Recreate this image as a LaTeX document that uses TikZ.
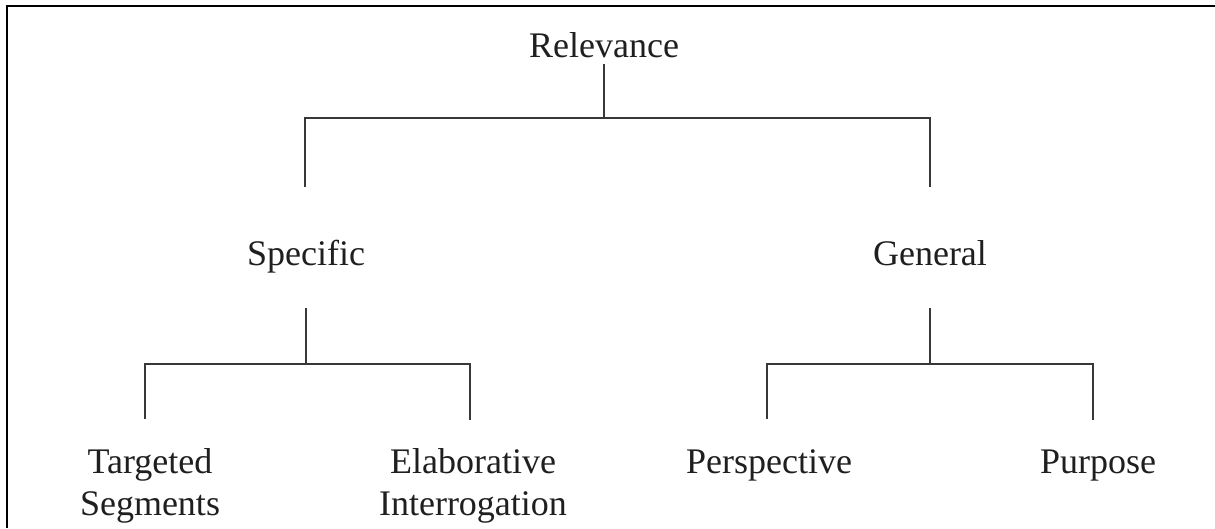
\documentclass[tikz,border=0pt]{standalone}
\usepackage{fontspec}
\setmainfont{Liberation Serif}
\begin{document}
\begin{tikzpicture}[x=1pt,y=-1pt,
  lbl/.style={anchor=base,inner sep=0pt,font=\fontsize{36}{42}\selectfont,text=black!88,align=center},
  conn/.style={draw=black!78,line width=2.2pt,line cap=butt,line join=miter}]
\useasboundingbox (0,0) rectangle (1215,528);
% cropped frame
\draw[line width=2.2pt,black] (7,528) -- (7,6) -- (1215,6);
% labels
\node[lbl] (rel) at (604,57) {Relevance};
\node[lbl] (spec) at (306,265) {Specific};
\node[lbl] (gen) at (930,265) {General};
\node[lbl] (ts) at (150,515) {Targeted\\Segments};
\node[lbl] (ei) at (473,515) {Elaborative\\Interrogation};
\node[lbl] (per) at (769,473) {Perspective};
\node[lbl] (pur) at (1098,473) {Purpose};
% junction coordinates
\coordinate (relB) at (604,64);
\coordinate (relJ) at (604,118);
\coordinate (specT) at (305,187);
\coordinate (genT) at (930,187);
\coordinate (specB) at (306,308);
\coordinate (specJ) at (306,364);
\coordinate (tsT) at (145,419);
\coordinate (eiT) at (470,420);
\coordinate (genB) at (930,308);
\coordinate (genJ) at (930,364);
\coordinate (perT) at (767,419);
\coordinate (purT) at (1093,420);
% connectors
\draw[conn] (relB) -- (relJ);
\draw[conn] (specT) -- (specT |- relJ) -- (genT |- relJ) -- (genT);
\draw[conn] (specB) -- (specJ);
\draw[conn] (tsT) -- (tsT |- specJ) -- (eiT |- specJ) -- (eiT);
\draw[conn] (genB) -- (genJ);
\draw[conn] (perT) -- (perT |- genJ) -- (purT |- genJ) -- (purT);
\end{tikzpicture}
\end{document}
